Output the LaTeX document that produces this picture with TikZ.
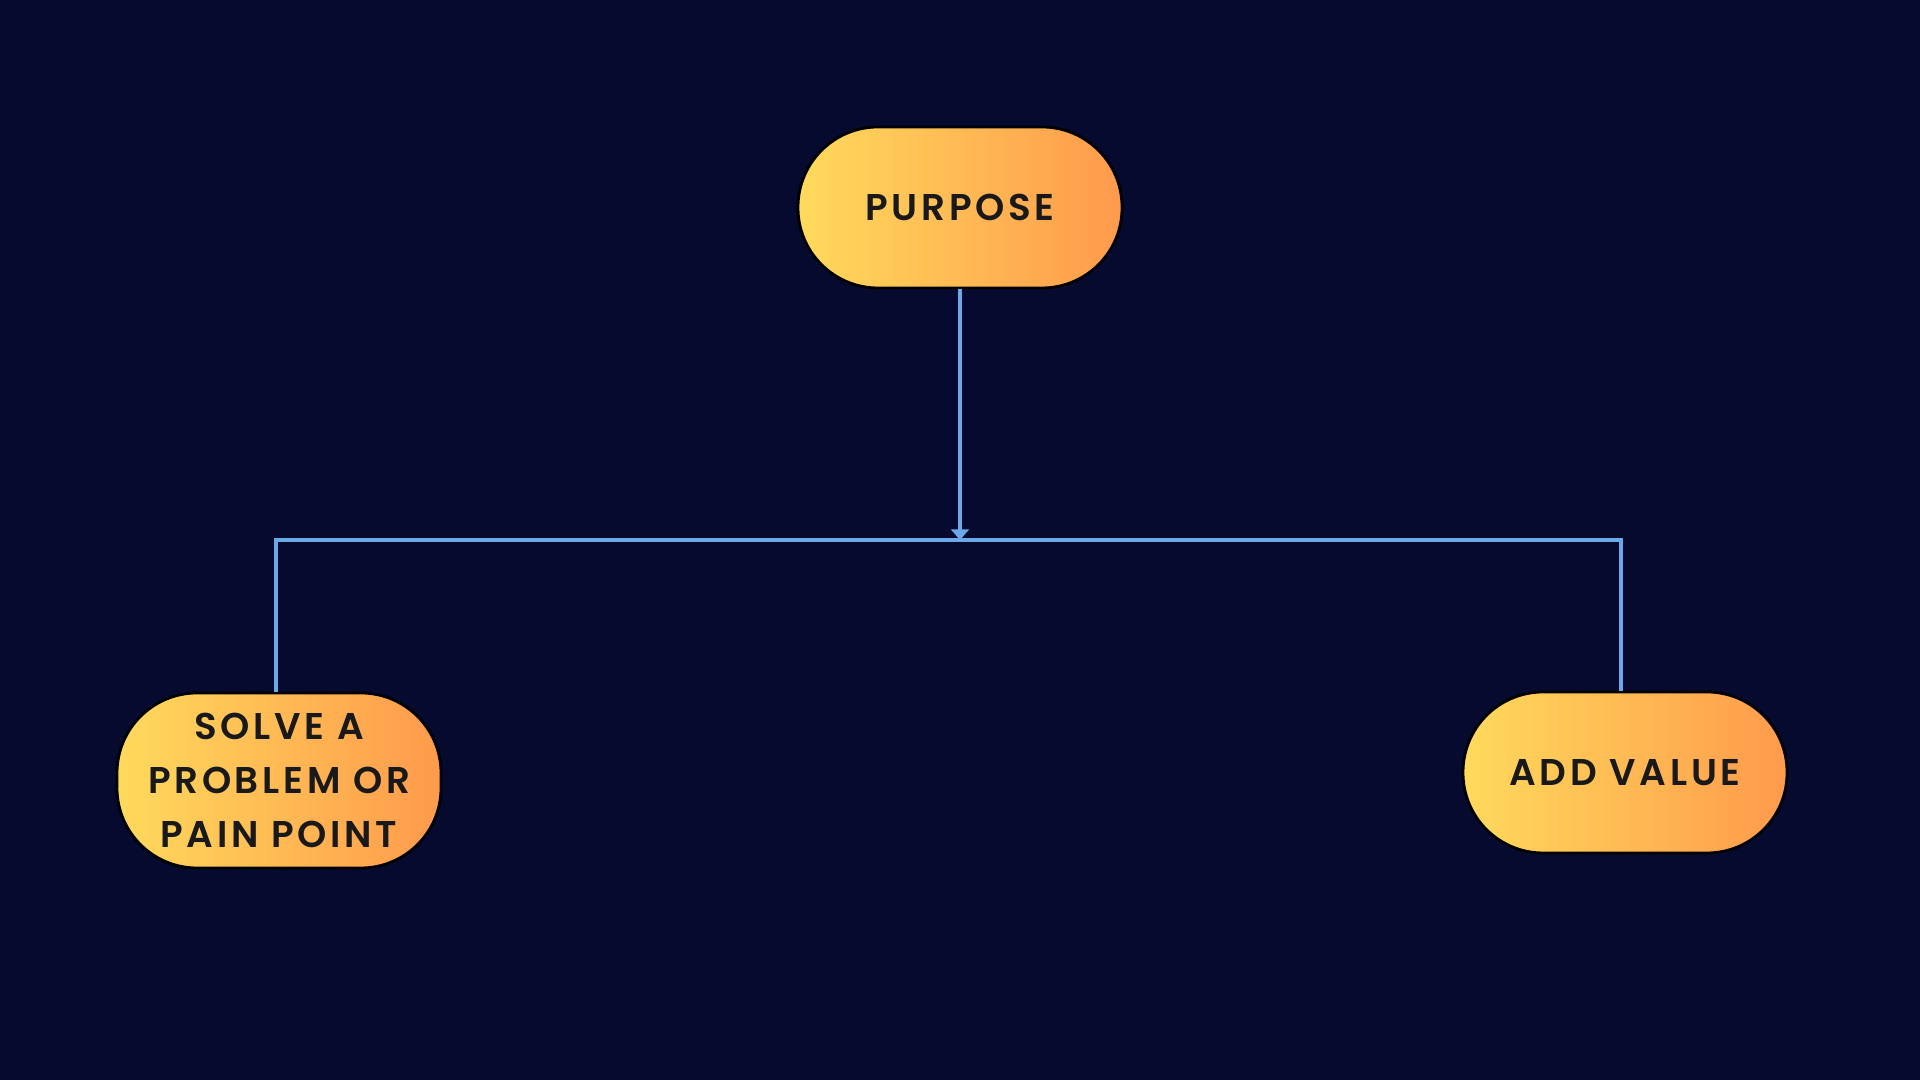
\documentclass[tikz,border=0pt]{standalone}
\usepackage{fontspec}
\usetikzlibrary{arrows.meta}
\newfontfamily\boxfont{Poppins SemiBold}[LetterSpace=10]
\definecolor{bgnavy}{HTML}{050A2E}
\definecolor{linkblue}{HTML}{6AA8E8}
\definecolor{padyellow}{HTML}{FFDA5C}
\definecolor{padorange}{HTML}{FF9A4C}
\tikzset{
  pill/.style={rounded corners=0.8cm, minimum width=3.24cm, minimum height=1.61cm,
    left color=padyellow, right color=padorange, draw=black, line width=0.8pt,
    align=center, inner sep=0pt, font=\boxfont\fontsize{10.6}{15.4}\selectfont, text=black!90},
  link/.style={draw=linkblue, line width=1.1pt}
}
\begin{document}
\begin{tikzpicture}
\fill[bgnavy] (0,0) rectangle (19.2,10.8);
\useasboundingbox (0,0) rectangle (19.2,10.8);
\node[pill] (purpose) at (9.60,8.725) {PURPOSE};
\node[pill, minimum height=1.75cm] (problem) at (2.79,2.995) {SOLVE A\\PROBLEM OR\\PAIN POINT};
\node[pill] (value) at (16.25,3.075) {ADD VALUE};
\coordinate (bus) at (9.60,5.40);
\draw[link, -{Triangle[width=5pt,length=3pt]}] (purpose.south) -- (bus);
\draw[link] ([xshift=-0.03cm]problem.north) |- (bus) -| ([xshift=-0.04cm]value.north);
\end{tikzpicture}
\end{document}
